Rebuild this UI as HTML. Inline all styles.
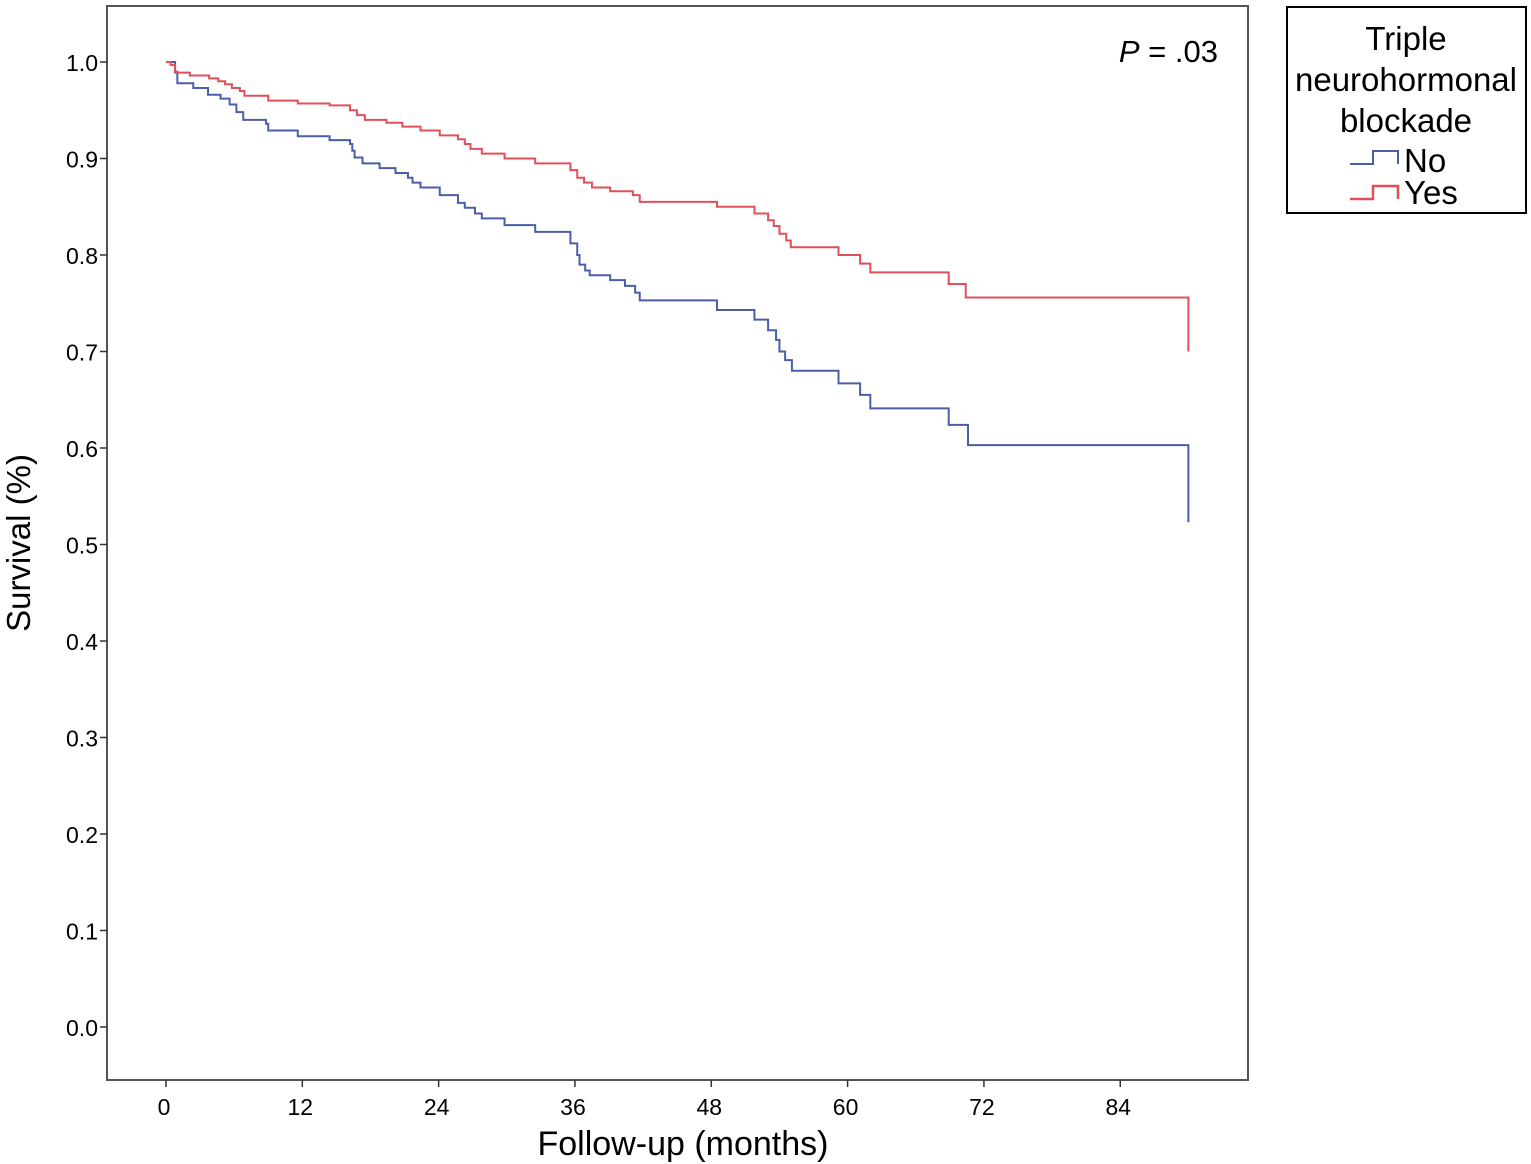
<!DOCTYPE html>
<html><head><meta charset="utf-8"><style>
html,body{margin:0;padding:0;background:#fff}
svg{display:block;font-family:"Liberation Sans",Arial,sans-serif}
</style></head><body>
<svg id="chart" width="1531" height="1164" viewBox="0 0 1531 1164">
<rect x="107" y="6" width="1141" height="1074" fill="none" stroke="#555" stroke-width="2"/>
<g id="yaxis"></g>
<g id="xaxis"></g>
<g id="series"></g>
<text transform="translate(30,543) rotate(-90)" text-anchor="middle" font-size="33">Survival (%)</text>
<text x="683" y="1155" text-anchor="middle" font-size="34">Follow-up (months)</text>
<text x="1218" y="62" text-anchor="end" font-size="31"><tspan font-style="italic">P</tspan> = .03</text>
<g>
<rect x="1287" y="7" width="239" height="206" fill="#fff" stroke="#000" stroke-width="2"/>
<text text-anchor="middle" font-size="33"><tspan x="1406" y="50">Triple</tspan><tspan x="1406" y="91">neurohormonal</tspan><tspan x="1406" y="132">blockade</tspan></text>
<path d="M1350,164 H1373 V151 H1398 V164" fill="none" stroke="#4a5fa8" stroke-width="2"/>
<text x="1404" y="172" font-size="33">No</text>
<path d="M1350,199 H1373 V186 H1398 V199" fill="none" stroke="#e0505a" stroke-width="2.5"/>
<text x="1404" y="204" font-size="33">Yes</text>
</g>
</svg>
<script>
const yTicks=[0,0.1,0.2,0.3,0.4,0.5,0.6,0.7,0.8,0.9,1.0];
const yTickLabels=["0.0","0.1","0.2","0.3","0.4","0.5","0.6","0.7","0.8","0.9","1.0"];
const xTicks=[0,12,24,36,48,60,72,84];
const xTickLabels=["0","12","24","36","48","60","72","84"];
const noTimes=[0,0.8,1.0,2.4,3.7,4.8,5.6,6.2,6.8,8.8,9.0,11.6,14.4,16.2,16.4,16.6,17.3,18.8,20.2,21.3,21.7,22.4,24.1,25.7,26.3,27.2,27.8,29.8,32.5,35.6,36.2,36.4,36.9,37.3,39.1,40.4,41.3,41.7,48.5,51.8,53.0,53.7,54.0,54.5,55.1,59.2,61.1,62.0,68.9,70.6,90.0];
const noSurv=[1.0,0.989,0.978,0.973,0.966,0.962,0.956,0.948,0.94,0.936,0.929,0.923,0.919,0.915,0.908,0.901,0.895,0.89,0.885,0.88,0.875,0.87,0.862,0.854,0.849,0.843,0.838,0.831,0.824,0.812,0.8,0.79,0.784,0.779,0.774,0.768,0.761,0.753,0.743,0.733,0.722,0.712,0.70,0.691,0.68,0.667,0.655,0.641,0.624,0.603,0.523];
const yesTimes=[0,0.4,0.8,1.0,2.1,3.8,4.6,5.2,5.8,6.5,6.9,9.0,11.6,14.4,16.2,16.8,17.5,19.4,20.8,22.4,24.1,25.7,26.3,26.8,27.8,29.8,32.5,35.6,36.2,36.8,37.5,39.1,41.1,41.7,48.5,51.8,53.0,53.5,54.0,54.6,55.0,59.2,61.1,62.0,68.9,70.4,90.0];
const yesSurv=[1.0,0.997,0.99,0.989,0.986,0.983,0.98,0.977,0.973,0.97,0.965,0.96,0.957,0.955,0.95,0.945,0.94,0.937,0.933,0.929,0.924,0.92,0.915,0.91,0.905,0.90,0.895,0.888,0.88,0.875,0.87,0.866,0.862,0.855,0.85,0.843,0.836,0.83,0.822,0.815,0.808,0.8,0.791,0.782,0.77,0.756,0.70];
const NS="http://www.w3.org/2000/svg";
const xs=m=>166+m*11.36;
const ys=s=>1027-s*965;
const ya=document.getElementById('yaxis');
yTicks.forEach((v,i)=>{
 const l=document.createElementNS(NS,'line');
 
 
 l.setAttribute('x1',100);l.setAttribute('x2',107);l.setAttribute('y1',ys(v));l.setAttribute('y2',ys(v));l.setAttribute('stroke','#333');l.setAttribute('stroke-width',1.5);
 ya.appendChild(l);
 const t=document.createElementNS(NS,'text');
 
 
 t.setAttribute('x',98);t.setAttribute('y',ys(v)+9);t.setAttribute('text-anchor','end');t.setAttribute('font-size',23);
 t.textContent=yTickLabels[i];ya.appendChild(t);
});
const xa=document.getElementById('xaxis');
xTicks.forEach((v,i)=>{
 const l=document.createElementNS(NS,'line');
 
 
 l.setAttribute('x1',xs(v));l.setAttribute('x2',xs(v));l.setAttribute('y1',1080);l.setAttribute('y2',1087);l.setAttribute('stroke','#333');l.setAttribute('stroke-width',1.5);
 xa.appendChild(l);
 const t=document.createElementNS(NS,'text');
 
 
 t.setAttribute('x',xs(v)-2);t.setAttribute('y',1115);t.setAttribute('text-anchor','middle');t.setAttribute('font-size',23);
 t.textContent=xTickLabels[i];xa.appendChild(t);
});
function stepPath(T,S){
 let d='M'+xs(T[0])+','+ys(S[0]);
 for(let i=1;i<T.length;i++){d+=' H'+xs(T[i])+' V'+ys(S[i]);}
 return d;
}
const sg=document.getElementById('series');
const p1=document.createElementNS(NS,'path');


p1.setAttribute('d',stepPath(noTimes,noSurv));p1.setAttribute('fill','none');p1.setAttribute('stroke','#4a5fa8');p1.setAttribute('stroke-width',2);
sg.appendChild(p1);
const p2=document.createElementNS(NS,'path');


p2.setAttribute('d',stepPath(yesTimes,yesSurv));p2.setAttribute('fill','none');p2.setAttribute('stroke','#e0505a');p2.setAttribute('stroke-width',2);
sg.appendChild(p2);
</script>
</body></html>
